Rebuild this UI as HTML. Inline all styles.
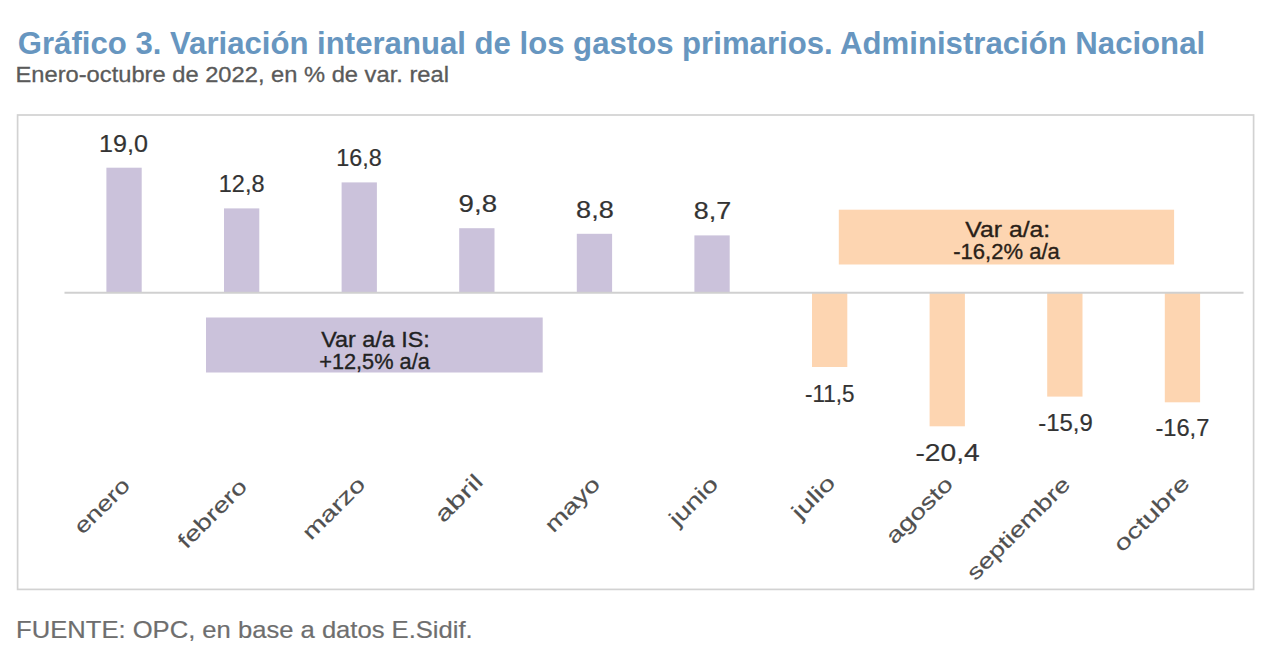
<!DOCTYPE html>
<html><head><meta charset="utf-8"><style>
html,body{margin:0;padding:0;background:#fff;width:1280px;height:670px;overflow:hidden}
svg{display:block}
text{font-family:"Liberation Sans",sans-serif}
</style></head><body>
<svg width="1280" height="670" viewBox="0 0 1280 670">
<rect x="0" y="0" width="1280" height="670" fill="#fff"/>
<rect x="17.6" y="115" width="1236" height="474.4" fill="none" stroke="#d2d2d2" stroke-width="1.7"/>
<rect x="206" y="317.5" width="336.7" height="55" fill="#cbc2db"/>
<rect x="838.8" y="209.7" width="335.3" height="54.8" fill="#fdd5b1"/>
<rect x="106.40" y="167.70" width="35.30" height="125.00" fill="#cbc2db"/>
<rect x="224.00" y="208.40" width="35.30" height="84.30" fill="#cbc2db"/>
<rect x="341.60" y="182.40" width="35.30" height="110.30" fill="#cbc2db"/>
<rect x="459.20" y="228.20" width="35.30" height="64.50" fill="#cbc2db"/>
<rect x="576.80" y="233.80" width="35.30" height="58.90" fill="#cbc2db"/>
<rect x="694.40" y="235.40" width="35.30" height="57.30" fill="#cbc2db"/>
<rect x="812.00" y="292.70" width="35.30" height="74.30" fill="#fdd5b1"/>
<rect x="929.60" y="292.70" width="35.30" height="133.60" fill="#fdd5b1"/>
<rect x="1047.20" y="292.70" width="35.30" height="103.90" fill="#fdd5b1"/>
<rect x="1164.80" y="292.70" width="35.30" height="109.60" fill="#fdd5b1"/>
<line x1="64.5" y1="292.7" x2="1243.5" y2="292.7" stroke="#d0d0d0" stroke-width="2"/>
<text id="t_title" x="17.80" y="53.80" font-size="30.5" fill="#6796c0" font-weight="bold" textLength="1187.30" lengthAdjust="spacingAndGlyphs">Gráfico 3. Variación interanual de los gastos primarios. Administración Nacional</text>
<text id="t_subtitle" x="15.49" y="81.90" font-size="22.5" fill="#5a5a5a" stroke="#5a5a5a" stroke-width="0.3" textLength="433.42" lengthAdjust="spacingAndGlyphs">Enero-octubre de 2022, en % de var. real</text>
<text id="t_footer" x="16.09" y="638.10" font-size="24" fill="#6e6e6e" stroke="#6e6e6e" stroke-width="0.2" textLength="456.62" lengthAdjust="spacingAndGlyphs">FUENTE: OPC, en base a datos E.Sidif.</text>
<text id="t_VarIS" x="321.20" y="346.90" font-size="22.5" fill="#222" stroke="#222" stroke-width="0.35" textLength="108.59" lengthAdjust="spacingAndGlyphs">Var a/a IS:</text>
<text id="t_p12_5" x="319.19" y="368.70" font-size="22.5" fill="#222" stroke="#222" stroke-width="0.35" textLength="110.61" lengthAdjust="spacingAndGlyphs">+12,5% a/a</text>
<text id="t_Var" x="965.39" y="237.00" font-size="22.5" fill="#2a1f18" stroke="#2a1f18" stroke-width="0.35" textLength="84.81" lengthAdjust="spacingAndGlyphs">Var a/a:</text>
<text id="t_m16_2" x="953.20" y="258.80" font-size="22.5" fill="#2a1f18" stroke="#2a1f18" stroke-width="0.35" textLength="106.61" lengthAdjust="spacingAndGlyphs">-16,2% a/a</text>
<text id="t_19_0" x="99.06" y="151.56" font-size="23" fill="#333" stroke="#333" stroke-width="0.2" textLength="48.83" lengthAdjust="spacingAndGlyphs">19,0</text>
<text id="t_12_8" x="218.80" y="192.23" font-size="23" fill="#333" stroke="#333" stroke-width="0.2" textLength="45.68" lengthAdjust="spacingAndGlyphs">12,8</text>
<text id="t_16_8" x="336.22" y="165.99" font-size="23" fill="#333" stroke="#333" stroke-width="0.2" textLength="45.42" lengthAdjust="spacingAndGlyphs">16,8</text>
<text id="t_9_8" x="458.62" y="211.91" font-size="23" fill="#333" stroke="#333" stroke-width="0.2" textLength="38.40" lengthAdjust="spacingAndGlyphs">9,8</text>
<text id="t_8_8" x="576.09" y="218.47" font-size="23" fill="#333" stroke="#333" stroke-width="0.2" textLength="37.64" lengthAdjust="spacingAndGlyphs">8,8</text>
<text id="t_8_7" x="693.84" y="219.13" font-size="23" fill="#333" stroke="#333" stroke-width="0.2" textLength="37.41" lengthAdjust="spacingAndGlyphs">8,7</text>
<text id="t_m11_5" x="805.07" y="402.14" font-size="23" fill="#333" stroke="#333" stroke-width="0.2" textLength="49.48" lengthAdjust="spacingAndGlyphs">-11,5</text>
<text id="t_m20_4" x="915.47" y="460.52" font-size="23" fill="#333" stroke="#333" stroke-width="0.2" textLength="64.19" lengthAdjust="spacingAndGlyphs">-20,4</text>
<text id="t_m15_9" x="1038.18" y="431.00" font-size="23" fill="#333" stroke="#333" stroke-width="0.2" textLength="54.58" lengthAdjust="spacingAndGlyphs">-15,9</text>
<text id="t_m16_7" x="1155.41" y="436.25" font-size="23" fill="#333" stroke="#333" stroke-width="0.2" textLength="53.92" lengthAdjust="spacingAndGlyphs">-16,7</text>
<text id="r_enero" x="131.25" y="486.80" font-size="21.5" fill="#505050" stroke="#505050" stroke-width="0.15" text-anchor="end" textLength="68.44" lengthAdjust="spacingAndGlyphs" transform="rotate(-45 131.25 486.80)">enero</text>
<text id="r_febrero" x="248.45" y="487.80" font-size="21.5" fill="#505050" stroke="#505050" stroke-width="0.15" text-anchor="end" textLength="87.54" lengthAdjust="spacingAndGlyphs" transform="rotate(-45 248.45 487.80)">febrero</text>
<text id="r_marzo" x="366.65" y="485.60" font-size="21.5" fill="#505050" stroke="#505050" stroke-width="0.15" text-anchor="end" textLength="78.52" lengthAdjust="spacingAndGlyphs" transform="rotate(-45 366.65 485.60)">marzo</text>
<text id="r_abril" x="484.25" y="483.00" font-size="21.5" fill="#505050" stroke="#505050" stroke-width="0.15" text-anchor="end" textLength="57.56" lengthAdjust="spacingAndGlyphs" transform="rotate(-45 484.25 483.00)">abril</text>
<text id="r_mayo" x="601.45" y="485.60" font-size="21.5" fill="#505050" stroke="#505050" stroke-width="0.15" text-anchor="end" textLength="67.80" lengthAdjust="spacingAndGlyphs" transform="rotate(-45 601.45 485.60)">mayo</text>
<text id="r_junio" x="719.45" y="485.60" font-size="21.5" fill="#505050" stroke="#505050" stroke-width="0.15" text-anchor="end" textLength="59.07" lengthAdjust="spacingAndGlyphs" transform="rotate(-45 719.45 485.60)">junio</text>
<text id="r_julio" x="836.65" y="484.00" font-size="21.5" fill="#505050" stroke="#505050" stroke-width="0.15" text-anchor="end" textLength="51.44" lengthAdjust="spacingAndGlyphs" transform="rotate(-45 836.65 484.00)">julio</text>
<text id="r_agosto" x="954.25" y="485.40" font-size="21.5" fill="#505050" stroke="#505050" stroke-width="0.15" text-anchor="end" textLength="84.41" lengthAdjust="spacingAndGlyphs" transform="rotate(-45 954.25 485.40)">agosto</text>
<text id="r_septiembre" x="1071.45" y="485.60" font-size="21.5" fill="#505050" stroke="#505050" stroke-width="0.15" text-anchor="end" textLength="135.71" lengthAdjust="spacingAndGlyphs" transform="rotate(-45 1071.45 485.60)">septiembre</text>
<text id="r_octubre" x="1190.85" y="484.60" font-size="21.5" fill="#505050" stroke="#505050" stroke-width="0.15" text-anchor="end" textLength="97.01" lengthAdjust="spacingAndGlyphs" transform="rotate(-45 1190.85 484.60)">octubre</text>
</svg></body></html>
